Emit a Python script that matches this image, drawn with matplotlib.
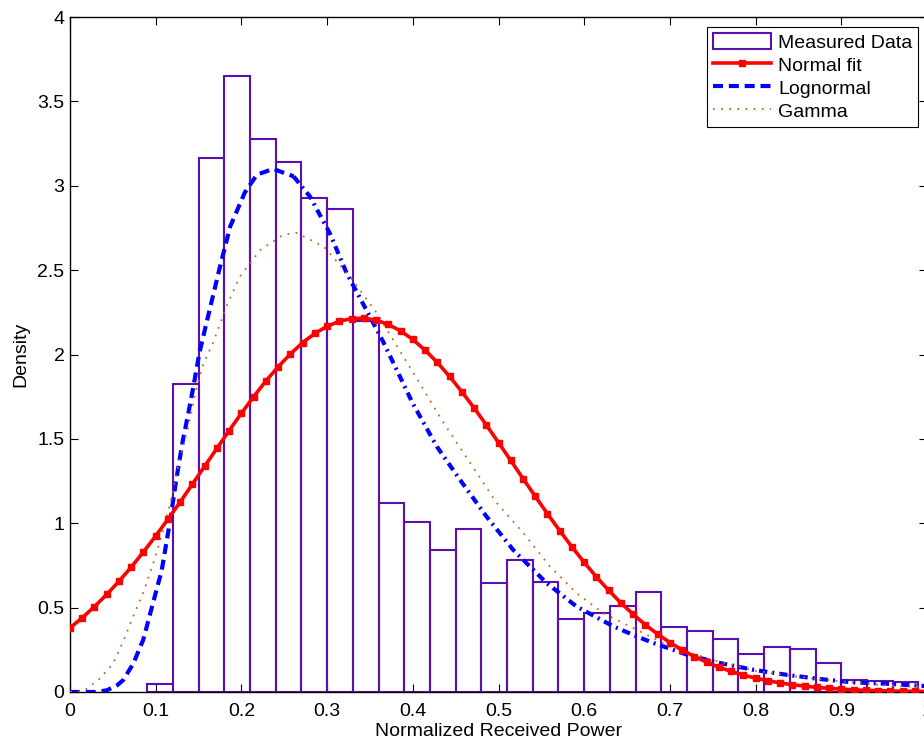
import numpy as np
import matplotlib
matplotlib.use("Agg")
import matplotlib.pyplot as plt
from matplotlib.patches import Patch
from matplotlib.lines import Line2D

plt.rcParams['font.family'] = ['Liberation Sans', 'DejaVu Sans']

# histogram (bin width 0.03, first bin starts at 0.09)
bin_left = [0.09 + 0.03 * i for i in range(30)]
bin_height = [0.05, 1.825, 3.165, 3.65, 3.28, 3.14, 2.93, 2.865, 2.20, 1.12,
              1.005, 0.84, 0.965, 0.643, 0.782, 0.652, 0.434, 0.466, 0.507, 0.592,
              0.383, 0.359, 0.316, 0.225, 0.267, 0.257, 0.174, 0.069, 0.067, 0.057]

# normal fit, read at the marker positions (71 markers from 0 to 1)
normal_x = np.linspace(0, 1, 71)
normal_y = [0.380, 0.440, 0.506, 0.578, 0.656, 0.740, 0.830, 0.925, 1.024, 1.126,
            1.232, 1.338, 1.444, 1.549, 1.652, 1.750, 1.843, 1.927, 2.003, 2.070,
            2.125, 2.167, 2.197, 2.213, 2.215, 2.204, 2.178, 2.140, 2.089, 2.026,
            1.953, 1.870, 1.780, 1.684, 1.583, 1.478, 1.372, 1.265, 1.160, 1.056,
            0.956, 0.860, 0.768, 0.682, 0.602, 0.528, 0.460, 0.398, 0.343, 0.293,
            0.249, 0.210, 0.177, 0.147, 0.122, 0.100, 0.082, 0.067, 0.054, 0.043,
            0.035, 0.027, 0.022, 0.017, 0.013, 0.010, 0.008, 0.006, 0.005, 0.004,
            0.003]

# lognormal fit
logn_x = [0.0, 0.03, 0.043, 0.055, 0.062, 0.074, 0.0855, 0.097, 0.107, 0.117,
          0.124, 0.132, 0.138, 0.144, 0.151, 0.1575, 0.175, 0.187, 0.204, 0.218,
          0.237, 0.261, 0.280, 0.303, 0.323, 0.342, 0.365, 0.40, 0.428, 0.455,
          0.486, 0.517, 0.556, 0.591, 0.634, 0.661, 0.681, 0.72, 0.758, 0.797,
          0.836, 0.875, 0.914, 0.953, 0.992, 1.0]
logn_y = [0.0, 0.0, 0.01, 0.04, 0.07, 0.17, 0.31, 0.53, 0.72, 1.02,
          1.26, 1.50, 1.65, 1.81, 2.01, 2.15, 2.52, 2.76, 2.96, 3.065,
          3.10, 3.055, 2.936, 2.72, 2.48, 2.30, 2.08, 1.71, 1.455, 1.258,
          1.04, 0.843, 0.646, 0.507, 0.389, 0.33, 0.29, 0.221, 0.172, 0.132,
          0.102, 0.077, 0.057, 0.049, 0.037, 0.035]

# gamma fit
gamma_x = [0.0, 0.016, 0.035, 0.0505, 0.062, 0.074, 0.0855, 0.097, 0.109, 0.117,
           0.128, 0.138, 0.148, 0.156, 0.167, 0.183, 0.198, 0.222, 0.249, 0.2645,
           0.296, 0.327, 0.358, 0.408, 0.436, 0.467, 0.498, 0.529, 0.56, 0.591,
           0.622, 0.661, 0.70, 0.75, 0.80, 0.85, 0.90, 0.95, 1.0]
gamma_y = [0.0, 0.005, 0.08, 0.17, 0.30, 0.45, 0.59, 0.76, 0.96, 1.12,
           1.38, 1.57, 1.81, 1.95, 2.07, 2.29, 2.46, 2.62, 2.71, 2.72,
           2.64, 2.46, 2.245, 1.83, 1.594, 1.357, 1.12, 0.942, 0.744, 0.586,
           0.468, 0.369, 0.27, 0.19, 0.125, 0.09, 0.063, 0.04, 0.027]

purple = '#5a0fb0'
brown = '#c06a25'
fs = 14

fig = plt.figure(figsize=(9.24, 7.42), dpi=100)
ax = fig.add_axes([70 / 924, 50 / 742, 857 / 924, 675 / 742])

ax.bar(bin_left, bin_height, width=0.03, align='edge', fill=False,
       edgecolor=purple, linewidth=1.5, zorder=2)

ax.plot(normal_x, normal_y, color='red', linewidth=2.6, marker='s',
        markersize=4.5, zorder=4)

# lognormal: dashed on the rising part, dash-dot afterwards (as rendered in the original)
split = 22
ax.plot(logn_x[:split], logn_y[:split], color='blue', linewidth=3,
        dashes=(2.4, 1.4), zorder=3)
ax.plot(logn_x[split - 1:], logn_y[split - 1:], color='blue', linewidth=3,
        dashes=(2.0, 1.2, 0.5, 1.2), zorder=3)

ax.plot(gamma_x, gamma_y, color=brown, linewidth=1.3, dashes=(1, 3.5), zorder=3)

ax.set_xlim(0, 1)
ax.set_ylim(0, 4)
ax.set_xticks(np.arange(0, 1.01, 0.1))
ax.set_xticklabels(['0', '0.1', '0.2', '0.3', '0.4', '0.5', '0.6', '0.7', '0.8', '0.9', '1'])
ax.set_yticks(np.arange(0, 4.01, 0.5))
ax.set_yticklabels(['0', '0.5', '1', '1.5', '2', '2.5', '3', '3.5', '4'])
ax.tick_params(direction='in', length=6, width=0.8, labelsize=fs,
               top=True, right=True)
ax.tick_params(axis='x', pad=8)
ax.tick_params(axis='y', pad=4)
for s in ax.spines.values():
    s.set_linewidth(1.0)

ax.set_xlabel('Normalized Received Power', fontsize=fs, labelpad=2)
ax.set_ylabel('Density', fontsize=fs, labelpad=6)

handles = [
    Patch(facecolor='white', edgecolor=purple, linewidth=1.5),
    Line2D([], [], color='red', linewidth=2.6, marker='s', markersize=4.5,
           markevery=[1]),
    Line2D([], [], color='blue', linewidth=3, dashes=(2.4, 1.4)),
    Line2D([], [], color=brown, linewidth=1.3, dashes=(1, 3.5)),
]
leg = ax.legend(handles, ['Measured Data', 'Normal fit', 'Lognormal', 'Gamma'],
                loc='upper right', bbox_to_anchor=(918 / 924, 1 - 27 / 742),
                bbox_transform=fig.transFigure, borderaxespad=0, fontsize=fs,
                fancybox=False, framealpha=1, edgecolor='black',
                handlelength=3.0, handleheight=0.9, handletextpad=0.35,
                labelspacing=0.22, borderpad=0.3)
leg.get_frame().set_linewidth(0.8)

fig.savefig('out.png', dpi=100)
